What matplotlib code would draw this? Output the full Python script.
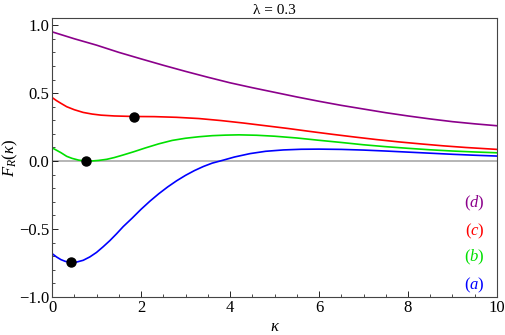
import numpy as np
import matplotlib
matplotlib.use("Agg")
import matplotlib.pyplot as plt
from matplotlib.ticker import MultipleLocator

plt.rcParams['font.family'] = 'serif'
plt.rcParams['font.serif'] = ['Liberation Serif', 'DejaVu Serif']
plt.rcParams['mathtext.fontset'] = 'custom'
plt.rcParams['mathtext.rm'] = 'Liberation Serif'
plt.rcParams['mathtext.it'] = 'Liberation Serif:italic'

# values
k_d = [0, 0.5, 1, 1.5, 2, 2.5, 3, 3.5, 4, 4.5, 5, 5.5, 6, 6.5, 7, 7.5, 8, 8.5, 9, 9.5, 10]
f_d = [0.951, 0.90, 0.853, 0.80, 0.752, 0.705, 0.66, 0.617, 0.576, 0.54, 0.506,
       0.472, 0.44, 0.41, 0.383, 0.356, 0.332, 0.31, 0.29, 0.274, 0.26]

k_c = [0, 0.1, 0.2, 0.33, 0.5, 0.7, 0.9, 1.1, 1.4, 1.85, 2.3, 2.8, 3.3, 3.8, 4.3,
       4.8, 5.3, 5.8, 6.3, 6.8, 7.3, 7.8, 8.3, 8.8, 9.3, 9.7, 10]
f_c = [0.468, 0.445, 0.425, 0.40, 0.378, 0.358, 0.346, 0.338, 0.332, 0.328, 0.327,
       0.322, 0.313, 0.298, 0.28, 0.26, 0.24, 0.218, 0.197, 0.177, 0.158, 0.141,
       0.126, 0.112, 0.10, 0.092, 0.086]

k_b = [0, 0.1, 0.2, 0.33, 0.45, 0.6, 0.76, 0.9, 1.05, 1.23, 1.4, 1.6, 1.83, 2.1,
       2.4, 2.7, 3.0, 3.3, 3.6, 3.9, 4.2, 4.6, 5.0, 5.5, 6.0, 6.5, 7.0, 7.5, 8.0,
       8.5, 9.0, 9.5, 10]
f_b = [0.098, 0.08, 0.062, 0.035, 0.02, 0.007, 0.0, 0.001, 0.005, 0.013, 0.026,
       0.045, 0.068, 0.097, 0.127, 0.152, 0.168, 0.179, 0.187, 0.191, 0.193, 0.19,
       0.183, 0.17, 0.153, 0.137, 0.12, 0.106, 0.094, 0.083, 0.074, 0.067, 0.061]

k_a = [0, 0.1, 0.2, 0.3, 0.43, 0.55, 0.7, 0.85, 1.0, 1.15, 1.3, 1.45, 1.6, 1.8,
       2.0, 2.2, 2.4, 2.6, 2.8, 3.0, 3.2, 3.4, 3.6, 3.85, 4.1, 4.45, 4.8, 5.2,
       5.6, 6.0, 6.5, 7.0, 7.5, 8.0, 8.5, 9.0, 9.5, 10]
f_a = [-0.68, -0.705, -0.725, -0.738, -0.745, -0.743, -0.73, -0.705, -0.672,
       -0.63, -0.585, -0.535, -0.482, -0.42, -0.355, -0.295, -0.24, -0.19,
       -0.145, -0.105, -0.07, -0.04, -0.015, 0.007, 0.03, 0.055, 0.072, 0.082,
       0.087, 0.088, 0.086, 0.081, 0.074, 0.066, 0.058, 0.05, 0.043, 0.037]

crit_k = [0.43, 0.76, 1.85]
crit_f = [-0.745, 0.0, 0.328]

labels = ['$(d)$', '$(c)$', '$(b)$', '$(a)$']
label_y = [-0.31, -0.515, -0.71, -0.912]
colors = ['#8b008b', '#ff0000', '#00e000', '#0000ff']

fig = plt.figure(figsize=(5.06, 3.35), dpi=100)
ax = fig.add_axes([0.1028, 0.1134, 0.8794, 0.8326])

ax.axhline(0, color='#b0b0b0', lw=1.3, zorder=1)
for kk, ff, c in zip([k_d, k_c, k_b, k_a], [f_d, f_c, f_b, f_a], colors):
    ax.plot(kk, ff, color=c, lw=1.2, zorder=2)
ax.plot(crit_k, crit_f, 'o', color='black', ms=6.5, zorder=3)

for lab, ly, c in zip(labels, label_y, colors):
    ax.text(9.72, ly, lab, color=c, fontsize=12, ha='right', va='center')

ax.set_xlim(0, 10)
ax.set_ylim(-1.0, 1.052)
ax.xaxis.set_major_locator(MultipleLocator(2))
ax.xaxis.set_minor_locator(MultipleLocator(0.5))
ax.yaxis.set_minor_locator(MultipleLocator(0.1))
ax.set_yticks([-1.0, -0.5, 0.0, 0.5, 1.0])
ax.set_yticklabels(['\u22121.0', '\u22120.5', '0.0', '0.5', '1.0'])
ax.tick_params(which='both', direction='in', top=False, right=False, labelsize=12, pad=2)
ax.tick_params(which='major', length=4, width=0.6)
ax.tick_params(which='minor', length=2, width=0.5)
for s in ax.spines.values():
    s.set_linewidth(0.8)
    s.set_color('#444444')

ax.set_xlabel('\u03ba', fontsize=12, style='italic')
ax.xaxis.set_label_coords(0.5, -0.08)
ax.set_ylabel(r'$F_R(\kappa)$', fontsize=12)
ax.yaxis.set_label_coords(-0.072, 0.5)
ax.set_title('\u03bb = 0.3', fontsize=11, pad=3)

fig.savefig('out.png', dpi=100)
